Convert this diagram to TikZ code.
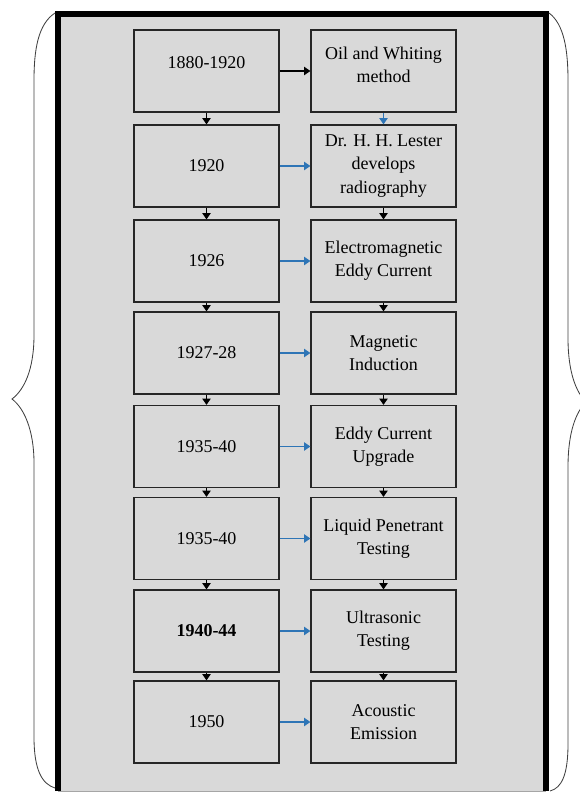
\documentclass[tikz,border=0pt]{standalone}
\usepackage{fontspec}
\setmainfont{Liberation Serif}
\usetikzlibrary{arrows.meta}
\definecolor{NDTBlue}{HTML}{2E75B6}
\definecolor{NDTGray}{HTML}{D9D9D9}
\definecolor{NDTEdge}{HTML}{262626}
\definecolor{NDTBrace}{HTML}{404040}

\begin{document}
\begin{tikzpicture}[font=\fontsize{12.8}{16.4}\selectfont,
  stagebox/.style={draw=NDTEdge,line width=0.9pt,fill=NDTGray,minimum width=3.625cm,minimum height=2.05cm,align=center,inner sep=1pt},
  flow/.style={-{Triangle[length=4.5pt,width=6pt]},line width=0.8pt,draw=black},
  link/.style={-{Triangle[length=4.5pt,width=6pt]},line width=0.8pt,draw=NDTBlue}]
  \useasboundingbox (0,0) rectangle (14.5,-19.825);

  \fill[NDTGray] (1.45,-0.35) rectangle (13.65,-19.775);
  \draw[line width=0.6pt,draw=gray!70] (1.45,-19.775) -- (13.65,-19.775);
  \draw[line width=3.6pt] (1.45,-19.775) -- (1.45,-0.35) -- (13.65,-0.35) -- (13.65,-19.775);

  \draw[NDTBrace,line width=0.6pt] (1.375,-0.325) .. controls (0.95,-0.6) and (0.85,-1.25) .. (0.85,-2.0)
    -- (0.85,-8.375) .. controls (0.85,-9.25) and (0.6,-9.75) .. (0.3,-9.975)
    .. controls (0.6,-10.2) and (0.85,-10.75) .. (0.85,-11.575)
    -- (0.85,-18.425) .. controls (0.85,-19.25) and (1.05,-19.6) .. (1.375,-19.7);
  \draw[NDTBrace,line width=0.6pt] (13.725,-0.325) .. controls (14.1,-0.6) and (14.2,-1.25) .. (14.2,-2.0)
    -- (14.2,-8.45) .. controls (14.2,-9.3) and (14.4,-9.8) .. (14.65,-10.05)
    .. controls (14.4,-10.3) and (14.2,-10.8) .. (14.2,-11.675)
    -- (14.2,-18.6) .. controls (14.2,-19.35) and (14.05,-19.7) .. (13.75,-19.775);

  \node[stagebox,text depth=0.4cm] (y1880) at (5.1625,-1.775) {1880-1920};
  \node[stagebox] (y1920) at (5.1625,-4.15) {1920};
  \node[stagebox] (y1926) at (5.1625,-6.525) {1926};
  \node[stagebox] (y1927) at (5.1625,-8.825) {1927-28};
  \node[stagebox] (y1935) at (5.1625,-11.1625) {1935-40};
  \node[stagebox] (y1935b) at (5.1625,-13.4625) {1935-40};
  \node[stagebox,font=\fontsize{12.8}{16.4}\selectfont\bfseries] (y1940) at (5.1625,-15.775) {1940-44};
  \node[stagebox] (y1950) at (5.1625,-18.05) {1950};

  \node[stagebox,text depth=0.3cm] (oil) at (9.5875,-1.775) {Oil and Whiting\\method};
  \node[stagebox] (rad) at (9.5875,-4.15) {Dr. H. H. Lester\\develops\\radiography};
  \node[stagebox] (eddy) at (9.5875,-6.525) {Electromagnetic\\Eddy Current};
  \node[stagebox] (mag) at (9.5875,-8.825) {Magnetic\\Induction};
  \node[stagebox] (eddyup) at (9.5875,-11.1625) {Eddy Current\\Upgrade};
  \node[stagebox] (lpt) at (9.5875,-13.4625) {Liquid Penetrant\\Testing};
  \node[stagebox] (ut) at (9.5875,-15.775) {Ultrasonic\\Testing};
  \node[stagebox] (ae) at (9.5875,-18.05) {Acoustic\\Emission};

  \draw[flow] (y1880.south) -- (y1920.north);
  \draw[flow] (y1920.south) -- (y1926.north);
  \draw[flow] (y1926.south) -- (y1927.north);
  \draw[flow] (y1927.south) -- (y1935.north);
  \draw[flow] (y1935.south) -- (y1935b.north);
  \draw[flow] (y1935b.south) -- (y1940.north);
  \draw[flow] (y1940.south) -- (y1950.north);

  \draw[link] (oil.south) -- (rad.north);
  \draw[flow] (rad.south) -- (eddy.north);
  \draw[flow] (eddy.south) -- (mag.north);
  \draw[flow] (mag.south) -- (eddyup.north);
  \draw[flow] (eddyup.south) -- (lpt.north);
  \draw[flow] (lpt.south) -- (ut.north);
  \draw[flow] (ut.south) -- (ae.north);

  \draw[flow] (y1880.east) -- (oil.west);
  \draw[link] (y1920.east) -- (rad.west);
  \draw[link] (y1926.east) -- (eddy.west);
  \draw[link] (y1927.east) -- (mag.west);
  \draw[link] (y1935.east) -- (eddyup.west);
  \draw[link] (y1935b.east) -- (lpt.west);
  \draw[link] (y1940.east) -- (ut.west);
  \draw[link] (y1950.east) -- (ae.west);
\end{tikzpicture}
\end{document}
